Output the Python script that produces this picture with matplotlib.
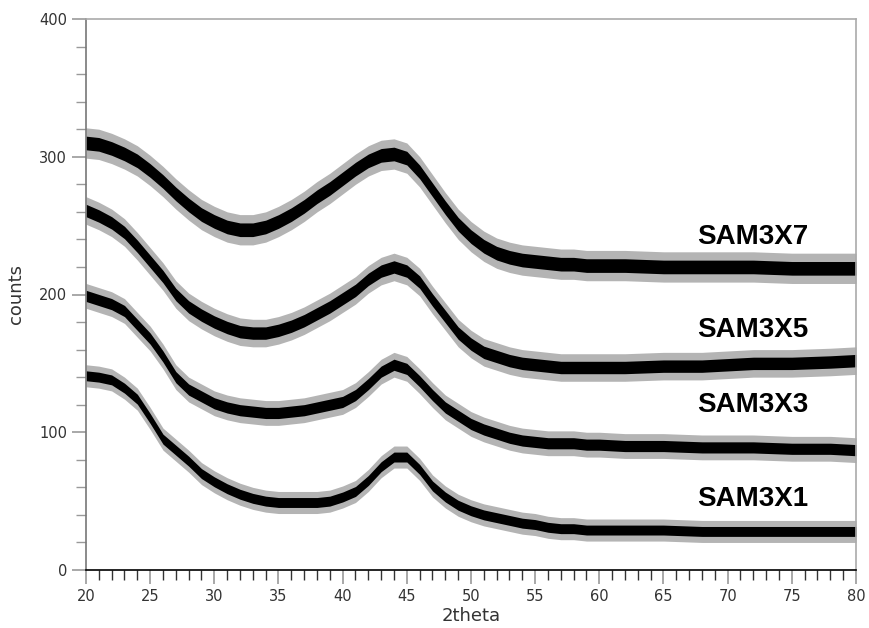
import matplotlib
matplotlib.use("Agg")
import matplotlib.pyplot as plt
from matplotlib.ticker import MultipleLocator
import numpy as np

# 2theta grid used when reading the curves off the picture
two_theta = [20, 21, 22, 23, 24, 25, 26, 27, 28, 29, 30, 31, 32, 33, 34, 35,
             36, 37, 38, 39, 40, 41, 42, 43, 44, 45, 46, 47, 48, 49, 50, 51,
             52, 53, 54, 55, 56, 57, 58, 59, 60, 62, 65, 68, 70, 72, 75, 78, 80]

# centre of each noisy trace (counts)
sam3x7 = [310, 309, 306, 302, 297, 290, 282, 273, 265, 258, 253, 249, 247, 247,
          249, 253, 258, 264, 271, 277, 284, 291, 297, 301, 302, 299, 289, 276,
          263, 251, 242, 235, 230, 227, 225, 224, 223, 222, 222, 221, 221, 221,
          220, 220, 220, 220, 219, 219, 219]
sam3x5 = [261, 257, 252, 245, 235, 224, 213, 200, 191, 185, 180, 176, 173, 172,
          172, 174, 177, 181, 186, 191, 197, 203, 211, 217, 220, 217, 209, 196,
          184, 172, 164, 158, 155, 152, 150, 149, 148, 147, 147, 147, 147, 147,
          148, 148, 149, 150, 150, 151, 152]
sam3x3 = [199, 196, 193, 188, 178, 168, 155, 140, 131, 126, 121, 118, 116, 115,
          114, 114, 115, 116, 118, 120, 122, 127, 135, 144, 149, 146, 137, 127,
          118, 112, 106, 102, 99, 96, 94, 93, 92, 92, 92, 91, 91, 90,
          90, 89, 89, 89, 88, 88, 87]
sam3x1 = [141, 140, 138, 132, 124, 110, 95, 87, 79, 70, 64, 59, 55, 52,
          50, 49, 49, 49, 49, 50, 53, 57, 65, 75, 82, 82, 73, 61,
          53, 47, 43, 40, 38, 36, 34, 33, 31, 30, 30, 29, 29, 29,
          29, 28, 28, 28, 28, 28, 28]

# half width of the noise band of each trace (counts)
noise = [11, 10, 9, 8]

names = ["SAM3X7", "SAM3X5", "SAM3X3", "SAM3X1"]
label_x = [67.6, 67.6, 67.6, 67.6]
label_y = [242, 174, 120, 51.5]

fig = plt.figure(figsize=(8.69, 6.28), dpi=100)
ax = fig.add_axes([86 / 869, 58 / 628, 770 / 869, 551 / 628])

x = np.array(two_theta)
for ys, nz in zip([sam3x7, sam3x5, sam3x3, sam3x1], noise):
    y = np.array(ys, dtype=float)
    # outer grey spikes and dark core of the noisy trace
    ax.fill_between(x, y - nz, y + nz, color="#b4b4b4", lw=0)
    ax.fill_between(x, y - nz * 0.45, y + nz * 0.45, color="black", lw=0)

for name, lx, ly in zip(names, label_x, label_y):
    ax.text(lx, ly, name, fontsize=20, fontweight="bold",
            family="Liberation Sans", va="center", ha="left")

ax.set_xlim(20, 80)
ax.set_ylim(0, 400)
ax.xaxis.set_major_locator(MultipleLocator(5))
ax.xaxis.set_minor_locator(MultipleLocator(1))
ax.yaxis.set_major_locator(MultipleLocator(100))
ax.yaxis.set_minor_locator(MultipleLocator(20))

ax.tick_params(which="major", direction="out", length=10, width=1.2,
               color="#999999", labelsize=10.5, labelcolor="#333333")
ax.tick_params(which="minor", direction="out", length=7, width=1,
               color="#333333")
ax.tick_params(axis="y", which="minor", color="#999999")

ax.spines["bottom"].set_color("black")
ax.spines["left"].set_color("#777777")
ax.spines["top"].set_color("#aaaaaa")
ax.spines["right"].set_color("#aaaaaa")
for s in ax.spines.values():
    s.set_linewidth(1.2)

ax.set_xlabel("2theta", fontsize=13, color="#333333", labelpad=2)
ax.set_ylabel("counts", fontsize=13, color="#333333", labelpad=10)

fig.savefig("out.png", dpi=100)
